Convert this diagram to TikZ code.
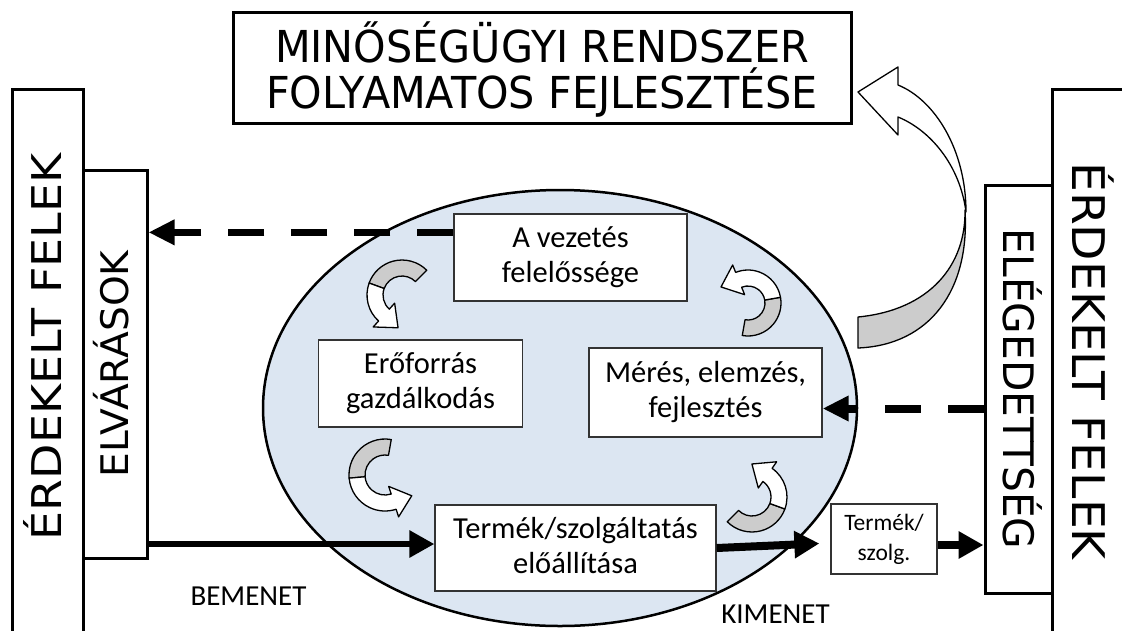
\documentclass[tikz,border=0pt]{standalone}
\usepackage{fontspec}
\setmainfont{Carlito}
\newfontfamily\ftitle[FakeStretch=0.94]{DejaVu Sans}
\newfontfamily\fleft[FakeStretch=1.12]{DejaVu Sans}
\newfontfamily\fright[FakeStretch=1.05]{DejaVu Sans}
\newfontfamily\felv[FakeStretch=1.03]{DejaVu Sans}
\newfontfamily\feleg[FakeStretch=0.97]{DejaVu Sans}
\usetikzlibrary{arrows.meta,calc}
\definecolor{ellfill}{RGB}{220,230,242}
\definecolor{carrgray}{RGB}{204,204,204}
\tikzset{
  bigline/.style={draw=black, line width=3pt, fill=white},
  procbox/.style={draw=black!80, line width=1.3pt, fill=white, inner sep=0pt, align=center,
     font=\fontsize{30.5}{35}\selectfont, text height=49pt, text depth=0pt},
  carrline/.style={draw=black, line width=1.3pt, line join=round},
  dasharr/.style={line width=7pt, dash pattern=on 36pt off 27pt, -{Triangle[length=26pt,width=24pt]}},
  solarr/.style={line width=6pt, -{Triangle[length=25pt,width=26pt]}},
  lbl/.style={anchor=base, inner sep=0pt, font=\fontsize{29}{29}\selectfont}
}
\newcommand\carr[6]{%
 \pgfmathsetmacro\cRo{#3+8}%
 \pgfmathsetmacro\cRi{#3-8}%
 \pgfmathsetmacro\cRoo{#3+16}%
 \pgfmathsetmacro\cRii{#3-16}%
 \pgfmathsetmacro\cTa{(#6)+90*sign((#6)-(#5))}%
 \filldraw[carrline, fill=carrgray] ($(#1,#2)+(#4:\cRo)$) arc[start angle=#4, end angle=#5, radius=\cRo]
   -- ($(#1,#2)+(#5:\cRi)$) arc[start angle=#5, end angle=#4, radius=\cRi] -- cycle;
 \filldraw[carrline, fill=white] ($(#1,#2)+(#5:\cRo)$) arc[start angle=#5, end angle=#6, radius=\cRo]
   -- ($(#1,#2)+(#6:\cRoo)$) -- ($(#1,#2)+(#6:#3)+(\cTa:19)$) -- ($(#1,#2)+(#6:\cRii)$)
   -- ($(#1,#2)+(#6:\cRi)$) arc[start angle=#6, end angle=#5, radius=\cRi] -- cycle;
}
\begin{document}
\begin{tikzpicture}[x=1pt,y=-1pt]
\useasboundingbox (0,0) rectangle (1122,630);
\clip (0,0) rectangle (1122,630);

% central ellipse
\filldraw[fill=ellfill, draw=black, line width=2.5pt] (560,408) ellipse [x radius=297, y radius=218];

% outer stakeholder boxes
\draw[bigline] (12,89) rectangle (83,700);
\draw[bigline] (1052,89) rectangle (1200,700);
\node[rotate=90, inner sep=0pt, text height=30pt, text depth=0pt, font=\fleft\fontsize{41}{41}\selectfont]
  (lstake) at (46,347) {ÉRDEKELT FELEK};
\node[rotate=-90, inner sep=0pt, text height=33pt, text depth=0pt, font=\fright\fontsize{45}{45}\selectfont]
  (rstake) at (1088.5,361) {ÉRDEKELT FELEK};

\node[bigline, rotate=90, minimum width=388pt, minimum height=64pt, inner sep=0pt,
  text height=27.7pt, text depth=0pt, font=\felv\fontsize{38}{38}\selectfont]
  (elv) at (115,364) {ELVÁRÁSOK};
\node[bigline, rotate=-90, minimum width=408pt, minimum height=67pt, inner sep=0pt,
  text height=30.6pt, text depth=0pt, font=\feleg\fontsize{42}{42}\selectfont]
  (eleg) at (1018.5,389) {ELÉGEDETTSÉG};

% title
\node[bigline, minimum width=618pt, minimum height=111pt, inner sep=0pt, align=center,
  text height=81pt, text depth=0pt, font=\ftitle\fontsize{44}{46}\selectfont]
  (title) at (542,67.5) {MINŐSÉGÜGYI RENDSZER\\FOLYAMATOS FEJLESZTÉSE};

% process boxes
\node[procbox, minimum width=233pt, minimum height=87pt] (lead) at (570.5,257.5) {A vezetés\\felelőssége};
\node[procbox, minimum width=204pt, minimum height=87pt] (res) at (420.5,383.5) {Erőforrás\\gazdálkodás};
\node[procbox, minimum width=233pt, minimum height=89pt] (meres) at (705.5,392.5) {Mérés, elemzés,\\fejlesztés};
\node[procbox, minimum width=281pt, minimum height=86pt, text height=50pt] (prod) at (575.5,548) {Termék/szolgáltatás\\előállítása};
\node[procbox, minimum width=106pt, minimum height=70pt, font=\fontsize{23.5}{30}\selectfont,
  text height=43pt, text depth=0pt] (small) at (884,539) {Termék/\\szolg.};

% connectors
\coordinate (d1) at ($(lead.north west)+(0,19)$);
\draw[dasharr] (d1) -- (d1 -| elv.south);
\coordinate (d2) at ($(meres.east)+(0,16)$);
\draw[dasharr, line width=8pt] (d2 -| eleg.south) -- (d2);
\draw[solarr] (prod.west -| elv.south) ++(0,-4) coordinate (s1) -- (s1 -| prod.west);
\draw[solarr, line width=8pt, shorten >=11pt] (prod.east) -- ($(small.west)+(0,4)$);
\coordinate (s3) at ($(small.east)+(0,6)$);
\draw[solarr, line width=8pt] (s3) -- (s3 -| eleg.south);

% big curved arrow (continuous improvement)
\filldraw[carrline, fill=carrgray] (965,210) .. controls (966,265) and (930,310) .. (858,317)
  -- (858,348) .. controls (930,345) and (970,290) .. (965,210) -- cycle;
\filldraw[carrline, fill=white] (898,85) .. controls (935,100) and (966,150) .. (966,212)
  .. controls (960,165) and (930,130) .. (898,117) -- (898,135) -- (858,92) -- (898,67) -- cycle;

% small cycle arrows
\carr{402}{295}{27}{-45}{-160}{-228}
\carr{748}{303}{25}{100}{-10}{-112}
\carr{385}{475}{28}{-80}{-185}{-288}
\carr{752}{497}{27}{135}{20}{-55}

% labels
\node[lbl] (inlab) at (248.5,605) {BEMENET};
\node[lbl] (outlab) at (775.5,623) {KIMENET};
\end{tikzpicture}
\end{document}
